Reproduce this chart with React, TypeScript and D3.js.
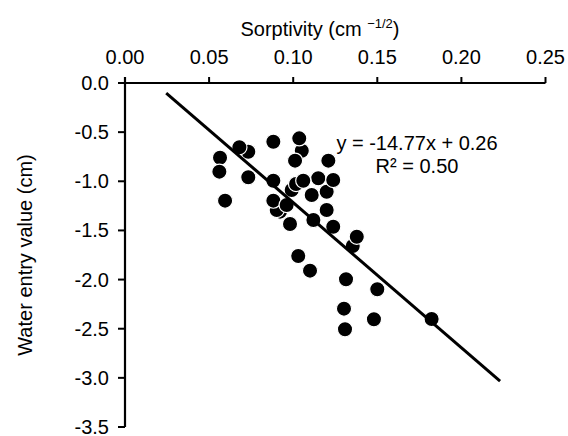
import React from "react";
import * as d3 from "d3";

const sorptivity = [
  0.068, 0.0733, 0.0882, 0.1036, 0.1051, 0.1011, 0.1209, 0.0565, 0.0561, 0.0733,
  0.0882, 0.1017, 0.1149, 0.1238, 0.106, 0.111, 0.1199, 0.0595, 0.0882, 0.0961,
  0.0922, 0.0981, 0.112, 0.1199, 0.1238, 0.1378, 0.1354, 0.103, 0.11, 0.1314,
  0.1302, 0.15, 0.1308, 0.148, 0.1823, 0.0991, 0.0902,
];
const waterEntry = [
  -0.654, -0.699, -0.597, -0.563, -0.689, -0.79, -0.79, -0.76, -0.902, -0.959,
  -0.994, -1.027, -0.969, -0.987, -0.994, -1.139, -1.106, -1.197, -1.197, -1.241,
  -1.309, -1.434, -1.394, -1.292, -1.462, -1.564, -1.658, -1.76, -1.909, -1.997,
  -2.296, -2.099, -2.506, -2.404, -2.401, -1.088, -1.292,
];
// draw order: points listed later appear on top
const order = [1, 4, 5, 12, 15, 16, 20, 21, 24, 26, 28, 35, 36, 0, 2, 3, 6, 7, 8, 9, 10, 11, 13, 14, 17, 18, 19, 22, 23, 25, 27, 29, 30, 31, 32, 33, 34];

const xTicks = [0, 0.05, 0.1, 0.15, 0.2, 0.25];
const yTicks = [0, -0.5, -1.0, -1.5, -2.0, -2.5, -3.0, -3.5];
const slope = -14.77;
const intercept = 0.26;
const trendRange = [0.0245, 0.223];
const equationText = "y = -14.77x + 0.26";
const r2Text = "R² = 0.50";

export default function App() {
  const W = 568;
  const H = 436;
  const x = d3.scaleLinear().domain([0, 0.25]).range([125, 545.5]);
  const y = d3.scaleLinear().domain([0, -3.5]).range([83, 427]);
  const font = "'Liberation Sans', Arial, sans-serif";
  const line = d3
    .line<number>()
    .x((d) => x(d))
    .y((d) => y(slope * d + intercept));

  return (
    <svg
      width={W}
      height={H}
      style={{ position: "absolute", left: 0, top: 0, background: "#fff" }}
      fontFamily={font}
    >
      <rect width={W} height={H} fill="#fff" />
      {/* top x axis */}
      <line x1={x(0)} x2={x(0.25)} y1={y(0)} y2={y(0)} stroke="#000" strokeWidth={2.2} />
      {xTicks.map((t) => (
        <g key={"x" + t}>
          <line x1={x(t)} x2={x(t)} y1={y(0)} y2={y(0) - 6} stroke="#000" strokeWidth={2} />
          <text x={x(t)} y={63.5} fontSize={20} textAnchor="middle" fill="#000">
            {t.toFixed(2)}
          </text>
        </g>
      ))}
      {/* left y axis */}
      <line x1={x(0)} x2={x(0)} y1={y(0) - 6} y2={y(-3.5)} stroke="#000" strokeWidth={2.2} />
      {yTicks.map((t) => (
        <g key={"y" + t}>
          <line x1={x(0) - 7} x2={x(0)} y1={y(t)} y2={y(t)} stroke="#000" strokeWidth={2} />
          <text x={109} y={y(t)} dy="0.35em" fontSize={20} textAnchor="end" fill="#000">
            {t.toFixed(1)}
          </text>
        </g>
      ))}
      {/* titles */}
      <text x={320} y={36} fontSize={20} textAnchor="middle" fill="#000">
        Sorptivity (cm{" "}
        <tspan fontSize={13} dy={-8}>
          −1/2
        </tspan>
        <tspan dy={8}>)</tspan>
      </text>
      <text
        transform={`translate(32, ${(y(0) + y(-3.5)) / 2}) rotate(-90)`}
        fontSize={20}
        textAnchor="middle"
        fill="#000"
      >
        Water entry value (cm)
      </text>
      {/* points */}
      {order.map((i) => (
        <circle
          key={"p" + i}
          cx={x(sorptivity[i])}
          cy={y(waterEntry[i])}
          r={7.6}
          fill="#000"
          stroke="#fff"
          strokeWidth={1.2}
        />
      ))}
      {/* trendline */}
      <path d={line(trendRange) || ""} stroke="#000" strokeWidth={3} fill="none" />
      {/* equation */}
      <text x={417} y={150} fontSize={20} textAnchor="middle" fill="#000">
        {equationText}
      </text>
      <text x={417} y={173} fontSize={20} textAnchor="middle" fill="#000">
        {r2Text}
      </text>
    </svg>
  );
}
